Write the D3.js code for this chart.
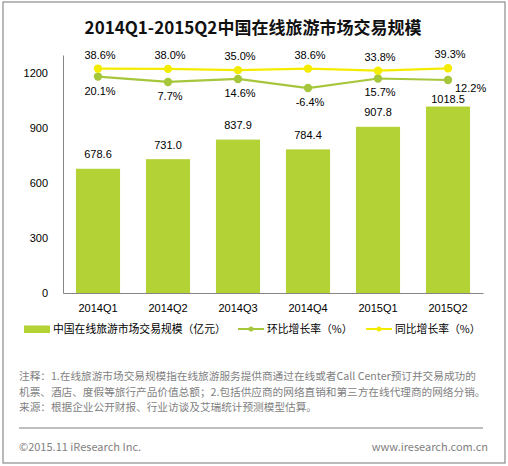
<!DOCTYPE html>
<html>
<head>
<meta charset="utf-8">
<script src="https://cdn.jsdelivr.net/npm/d3@7"></script>
<style>
  body { margin: 0; background: #fff; }
  svg text { font-family: "Liberation Sans", Arial, "Noto Sans CJK SC", sans-serif; }
  .cjk, .cjk text { font-family: "Noto Sans CJK SC", "Liberation Sans", sans-serif; }
</style>
</head>
<body>
<svg id="chart" width="508" height="466"></svg>
<script>
// dados
const quarters = ["2014Q1", "2014Q2", "2014Q3", "2014Q4", "2015Q1", "2015Q2"];
const scale = [678.6, 731.0, 837.9, 784.4, 907.8, 1018.5];   // 亿元
const qoq = [20.1, 7.7, 14.6, -6.4, 15.7, 12.2];             // 环比 %
const yoy = [38.6, 38.0, 35.0, 38.6, 33.8, 39.3];            // 同比 %
const yTicks = [0, 300, 600, 900, 1200];

const barColor = "#b3d235";
const qoqColor = "#a6c63c";
const yoyColor = "#f4ec00";

const svg = d3.select("#chart");

// fundo e moldura
svg.append("rect").attr("width", 508).attr("height", 466).attr("fill", "#fff");
svg.append("rect")
    .attr("x", 3).attr("y", 2).attr("width", 502).attr("height", 461)
    .attr("fill", "none").attr("stroke", "#8c8c8c").attr("stroke-width", 1.2);

// título
svg.append("text")
    .attr("class", "cjk")
    .attr("x", 253).attr("y", 34)
    .attr("text-anchor", "middle")
    .attr("font-size", 17).attr("font-weight", "bold")
    .attr("fill", "#111")
    .text("2014Q1-2015Q2中国在线旅游市场交易规模");

// escalas
const x = d3.scaleBand().domain(quarters).range([63, 483]).paddingInner(0.37).paddingOuter(0.185);
const y = d3.scaleLinear().domain([0, 1300]).range([293, 55]);
const yPct = d3.scaleLinear().domain([-480, 70]).range([293, 55]); // eixo secundário oculto
const cx = d => x(d) + x.bandwidth() / 2;

// eixo Y
const yAxis = svg.append("g")
    .attr("transform", "translate(63,0)")
    .call(d3.axisLeft(y).tickValues(yTicks).tickFormat(d3.format("d")).tickSize(0).tickPadding(15));
yAxis.select(".domain").attr("stroke", "#868686");
yAxis.selectAll("text").attr("font-size", 11).attr("fill", "#000")
    .attr("font-family", "Liberation Sans, Arial, sans-serif");

// barras
svg.selectAll("rect.bar")
    .data(scale)
    .enter().append("rect")
    .attr("class", "bar")
    .attr("x", (d, i) => x(quarters[i]))
    .attr("y", d => y(d))
    .attr("width", x.bandwidth())
    .attr("height", d => y(0) - y(d))
    .attr("fill", barColor);

// eixo X
const xAxis = svg.append("g")
    .attr("transform", "translate(0,293)")
    .call(d3.axisBottom(x).tickSize(0).tickPadding(11));
xAxis.select(".domain").attr("stroke", "#868686");
xAxis.selectAll("text").attr("font-size", 11).attr("fill", "#000")
    .attr("font-family", "Liberation Sans, Arial, sans-serif");

// rótulos das barras (o último foi empurrado para baixo no original)
svg.selectAll("text.barlabel")
    .data(scale)
    .enter().append("text")
    .attr("class", "barlabel")
    .attr("x", (d, i) => cx(quarters[i]))
    .attr("y", (d, i) => y(d) - (i === scale.length - 1 ? 4 : 10.5))
    .attr("text-anchor", "middle")
    .attr("font-size", 11).attr("fill", "#000")
    .text(d => d.toFixed(1));

// linhas
const line = d3.line().x((d, i) => cx(quarters[i])).y(d => yPct(d));

function drawSeries(values, color, cls) {
    svg.append("path")
        .datum(values)
        .attr("d", line)
        .attr("fill", "none")
        .attr("stroke", color)
        .attr("stroke-width", 2.2);
    svg.selectAll("circle." + cls)
        .data(values)
        .enter().append("circle")
        .attr("class", cls)
        .attr("cx", (d, i) => cx(quarters[i]))
        .attr("cy", d => yPct(d))
        .attr("r", 4.2)
        .attr("fill", color);
}
drawSeries(qoq, qoqColor, "qoq");
drawSeries(yoy, yoyColor, "yoy");

// rótulos do 同比 (acima)
svg.selectAll("text.yoylabel")
    .data(yoy)
    .enter().append("text")
    .attr("class", "yoylabel")
    .attr("x", (d, i) => cx(quarters[i]) + 2)
    .attr("y", d => yPct(d) - 10)
    .attr("text-anchor", "middle")
    .attr("font-size", 11).attr("fill", "#000")
    .text(d => d.toFixed(1) + "%");

// rótulos do 环比 (abaixo; o último à direita)
svg.selectAll("text.qoqlabel")
    .data(qoq)
    .enter().append("text")
    .attr("class", "qoqlabel")
    .attr("x", (d, i) => i === qoq.length - 1 ? cx(quarters[i]) + 7 : cx(quarters[i]) + 2)
    .attr("y", (d, i) => i === qoq.length - 1 ? yPct(d) + 12 : yPct(d) + 18)
    .attr("text-anchor", (d, i) => i === qoq.length - 1 ? "start" : "middle")
    .attr("font-size", 11).attr("fill", "#000")
    .text(d => d.toFixed(1) + "%");

// legenda
const legend = svg.append("g").attr("class", "cjk").attr("font-size", 10.8).attr("fill", "#000");
legend.append("rect").attr("x", 24).attr("y", 325.5).attr("width", 26).attr("height", 7.5).attr("fill", barColor);
legend.append("text").attr("x", 53).attr("y", 333).text("中国在线旅游市场交易规模（亿元）");

legend.append("line").attr("x1", 238).attr("x2", 264).attr("y1", 329).attr("y2", 329)
    .attr("stroke", qoqColor).attr("stroke-width", 2);
legend.append("circle").attr("cx", 251).attr("cy", 329).attr("r", 2.5).attr("fill", qoqColor);
legend.append("text").attr("x", 267).attr("y", 333).text("环比增长率（%）");

legend.append("line").attr("x1", 366).attr("x2", 392).attr("y1", 329).attr("y2", 329)
    .attr("stroke", yoyColor).attr("stroke-width", 2);
legend.append("circle").attr("cx", 379).attr("cy", 329).attr("r", 2.5).attr("fill", yoyColor);
legend.append("text").attr("x", 395).attr("y", 333).text("同比增长率（%）");

// notas
const notes = [
    "注释：1.在线旅游市场交易规模指在线旅游服务提供商通过在线或者Call Center预订并交易成功的",
    "机票、酒店、度假等旅行产品价值总额；2.包括供应商的网络直销和第三方在线代理商的网络分销。",
    "来源：根据企业公开财报、行业访谈及艾瑞统计预测模型估算。"
];
svg.append("g").attr("class", "cjk")
    .selectAll("text")
    .data(notes)
    .enter().append("text")
    .attr("x", 19)
    .attr("y", (d, i) => 380 + i * 15.5)
    .attr("font-size", 10.65).attr("fill", "#7f7f7f")
    .text(d => d);

svg.append("line")
    .attr("x1", 19).attr("x2", 483).attr("y1", 428).attr("y2", 428)
    .attr("stroke", "#7f7f7f").attr("stroke-width", 1);

svg.append("text").attr("class", "cjk")
    .attr("x", 19).attr("y", 451)
    .attr("font-size", 11).attr("fill", "#7f7f7f")
    .text("©2015.11 iResearch Inc.");
svg.append("text").attr("class", "cjk")
    .attr("x", 488).attr("y", 451)
    .attr("text-anchor", "end")
    .attr("font-size", 11).attr("fill", "#7f7f7f")
    .text("www.iresearch.com.cn");
</script>
</body>
</html>
